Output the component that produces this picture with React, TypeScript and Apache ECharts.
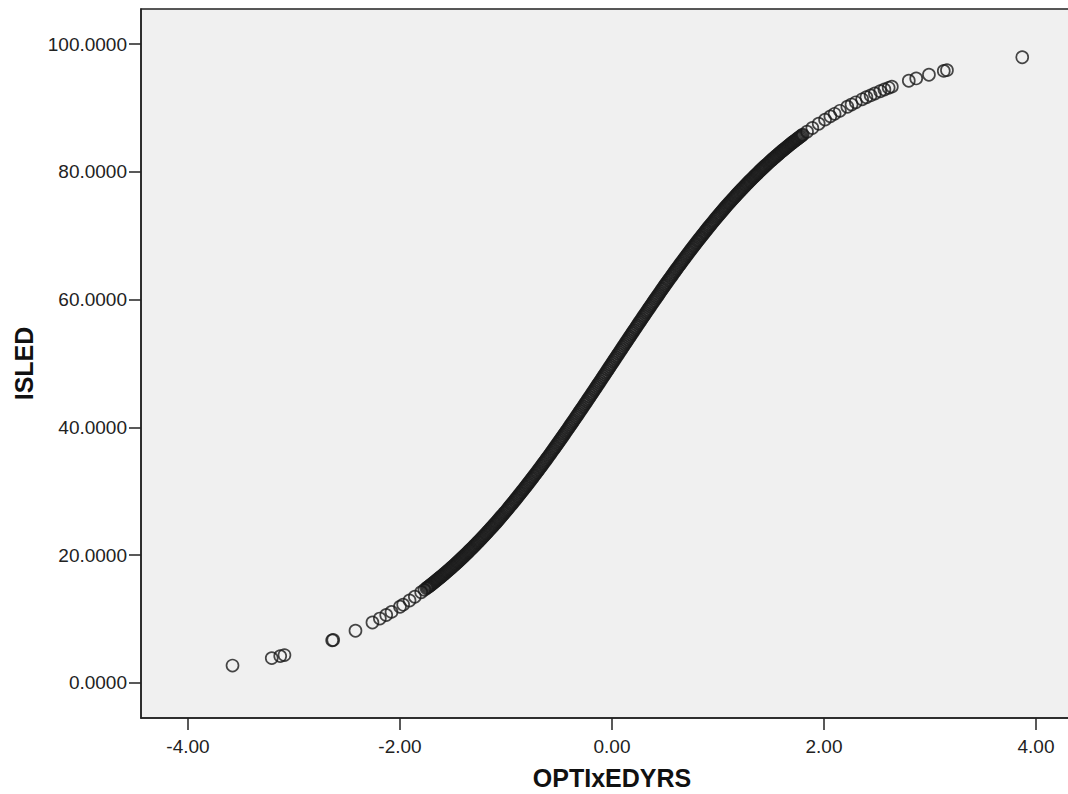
import React, { useEffect, useRef } from "react";
import * as echarts from "echarts";

// OPTIxEDYRS (x) and ISLED (y) values (tails and main band)
const optiValues: number[] = [
  -3.58, -3.21, -3.13, -3.09, -2.64, -2.63, -2.42, -2.26, -2.19, -2.13, -2.08, -2.0, -1.97, -1.91, -1.86, -1.8,
  -1.74, -1.71, -1.68, -1.65, -1.62, -1.59, -1.56, -1.54, -1.51, -1.48, -1.46, -1.43, -1.41, -1.38, -1.36, -1.34,
  -1.31, -1.29, -1.27, -1.25, -1.23, -1.21, -1.19, -1.17, -1.15, -1.13, -1.11, -1.09, -1.07, -1.05, -1.03, -1.01,
  -0.99, -0.97, -0.95, -0.93, -0.91, -0.89, -0.86, -0.84, -0.82, -0.8, -0.78, -0.76, -0.73, -0.71, -0.69, -0.67,
  -0.65, -0.62, -0.6, -0.58, -0.56, -0.54, -0.51, -0.49, -0.47, -0.45, -0.43, -0.4, -0.38, -0.36, -0.34, -0.31,
  -0.29, -0.27, -0.25, -0.22, -0.2, -0.18, -0.16, -0.14, -0.13, -0.11, -0.09, -0.07, -0.05, -0.04, -0.02,
  0.01, 0.03, 0.05, 0.06, 0.08, 0.1, 0.12, 0.14, 0.15, 0.17, 0.19, 0.21, 0.23, 0.24, 0.26, 0.28, 0.3, 0.32,
  0.33, 0.35, 0.37, 0.39, 0.41, 0.42, 0.44, 0.46, 0.48, 0.5, 0.52, 0.53, 0.55, 0.57, 0.59, 0.61, 0.63, 0.64,
  0.66, 0.68, 0.7, 0.72, 0.74, 0.75, 0.77, 0.79, 0.81, 0.83, 0.85, 0.87, 0.88, 0.9, 0.92, 0.94, 0.96, 0.98,
  1.0, 1.02, 1.04, 1.06, 1.08, 1.1, 1.12, 1.14, 1.16, 1.18, 1.2, 1.22, 1.24, 1.26, 1.28, 1.3, 1.33, 1.35,
  1.37, 1.4, 1.42, 1.45, 1.47, 1.5, 1.52, 1.55, 1.58, 1.6, 1.63, 1.66, 1.69, 1.72, 1.75, 1.78, 1.8, 1.84,
  1.89, 1.95, 2.01, 2.06, 2.1, 2.15, 2.22, 2.26, 2.3, 2.36, 2.4, 2.44, 2.48, 2.53, 2.57, 2.61, 2.64, 2.8,
  2.87, 2.99, 3.13, 3.16, 3.87,
];

const isledValues: number[] = [
  2.71, 3.88, 4.19, 4.35, 6.66, 6.72, 8.16, 9.45, 10.07, 10.62, 11.11, 11.92, 12.24, 12.9, 13.48, 14.19,
  14.94, 15.32, 15.71, 16.12, 16.53, 16.94, 17.38, 17.66, 18.1, 18.55, 18.86, 19.32, 19.63, 20.11, 20.43, 20.76,
  21.26, 21.59, 21.94, 22.28, 22.63, 22.98, 23.33, 23.69, 24.06, 24.42, 24.79, 25.16, 25.54, 25.93, 26.31, 26.7,
  27.09, 27.5, 27.9, 28.3, 28.71, 29.12, 29.75, 30.17, 30.59, 31.01, 31.44, 31.88, 32.53, 32.96, 33.4, 33.85,
  34.3, 34.98, 35.43, 35.89, 36.36, 36.82, 37.52, 37.99, 38.46, 38.94, 39.42, 40.13, 40.62, 41.1, 41.59, 42.32,
  42.8, 43.29, 43.78, 44.53, 45.02, 45.51, 46.01, 46.51, 46.75, 47.25, 47.75, 48.25, 48.75, 49.0, 49.5,
  50.25, 50.75, 51.25, 51.5, 52.0, 52.5, 53.0, 53.49, 53.74, 54.24, 54.74, 55.23, 55.72, 55.97, 56.46, 56.95, 57.44, 57.93,
  58.17, 58.66, 59.14, 59.63, 60.11, 60.35, 60.82, 61.3, 61.77, 62.25, 62.71, 62.95, 63.41, 63.87, 64.34, 64.8, 65.25, 65.47,
  65.92, 66.37, 66.82, 67.25, 67.69, 67.91, 68.34, 68.77, 69.2, 69.62, 70.04, 70.46, 70.67, 71.09, 71.49, 71.9, 72.3, 72.71,
  73.11, 73.49, 73.88, 74.26, 74.65, 75.03, 75.39, 75.76, 76.12, 76.49, 76.85, 77.2, 77.54, 77.89, 78.23, 78.58, 79.07, 79.4,
  79.73, 80.22, 80.53, 80.99, 81.3, 81.76, 82.05, 82.48, 82.91, 83.2, 83.61, 84.02, 84.42, 84.81, 85.19, 85.56, 85.81, 86.29,
  86.87, 87.54, 88.18, 88.69, 89.09, 89.56, 90.2, 90.54, 90.89, 91.36, 91.68, 91.97, 92.27, 92.62, 92.89, 93.16, 93.34, 94.27,
  94.63, 95.21, 95.81, 95.92, 97.95,
];

// further cases packed inside the dense middle band
const optiBand: number[] = [
  -1.77, -1.75, -1.73, -1.72, -1.7, -1.69, -1.67, -1.66, -1.64, -1.63, -1.61, -1.6, -1.58, -1.57, -1.55, -1.53,
  -1.52, -1.5, -1.49, -1.47, -1.45, -1.44, -1.42, -1.4, -1.39, -1.37, -1.35, -1.33, -1.32, -1.3, -1.28, -1.26,
  -1.24, -1.22, -1.2, -1.18, -1.16, -1.14, -1.12, -1.1, -1.08, -1.06, -1.04, -1.02, -1.0, -0.98, -0.96, -0.94,
  -0.92, -0.9, -0.88, -0.87, -0.85, -0.83, -0.81, -0.79, -0.77, -0.75, -0.74, -0.72, -0.7, -0.68, -0.66, -0.64,
  -0.63, -0.61, -0.59, -0.57, -0.55, -0.53, -0.52, -0.5, -0.48, -0.46, -0.44, -0.42, -0.41, -0.39, -0.37, -0.35,
  -0.33, -0.32, -0.3, -0.28, -0.26, -0.24, -0.23, -0.21, -0.19, -0.17, -0.15, -0.12, -0.1, -0.08, -0.06, -0.03,
  -0.01, 0.0, 0.02, 0.04, 0.07, 0.09, 0.11, 0.13, 0.16, 0.18, 0.2, 0.22, 0.25, 0.27, 0.29, 0.31, 0.34, 0.36,
  0.38, 0.4, 0.43, 0.45, 0.47, 0.49, 0.51, 0.54, 0.56, 0.58, 0.6, 0.62, 0.65, 0.67, 0.69, 0.71, 0.73, 0.76,
  0.78, 0.8, 0.82, 0.84, 0.86, 0.89, 0.91, 0.93, 0.95, 0.97, 0.99, 1.01, 1.03, 1.05, 1.07, 1.09, 1.11, 1.13,
  1.15, 1.17, 1.19, 1.21, 1.23, 1.25, 1.27, 1.29, 1.31, 1.32, 1.34, 1.36, 1.38, 1.39, 1.41, 1.43, 1.44, 1.46,
  1.48, 1.49, 1.51, 1.53, 1.54, 1.56, 1.57, 1.59, 1.61, 1.62, 1.64, 1.65, 1.67, 1.68, 1.7, 1.71, 1.73, 1.74,
  1.76, 1.77, 1.79,
];

const isledBand: number[] = [
  14.56, 14.81, 15.06, 15.19, 15.44, 15.58, 15.85, 15.98, 16.26, 16.39, 16.66, 16.8, 17.09, 17.23, 17.52, 17.81,
  17.95, 18.24, 18.39, 18.7, 19.01, 19.16, 19.47, 19.78, 19.94, 20.27, 20.6, 20.93, 21.09, 21.42, 21.77, 22.11,
  22.46, 22.8, 23.15, 23.51, 23.88, 24.24, 24.61, 24.97, 25.35, 25.74, 26.12, 26.51, 26.89, 27.29, 27.7, 28.1,
  28.51, 28.91, 29.33, 29.54, 29.96, 30.38, 30.8, 31.23, 31.66, 32.09, 32.31, 32.75, 33.18, 33.63, 34.08, 34.53,
  34.75, 35.2, 35.66, 36.13, 36.59, 37.05, 37.29, 37.75, 38.23, 38.7, 39.18, 39.65, 39.89, 40.37, 40.86, 41.34,
  41.83, 42.07, 42.56, 43.05, 43.54, 44.03, 44.28, 44.77, 45.26, 45.76, 46.26, 47.0, 47.5, 48.0, 48.5, 49.25,
  49.75, 50.0, 50.5, 51.0, 51.75, 52.25, 52.75, 53.25, 53.99, 54.49, 54.98, 55.47, 56.22, 56.71, 57.2, 57.68, 58.41, 58.9,
  59.38, 59.87, 60.58, 61.06, 61.54, 62.01, 62.48, 63.18, 63.64, 64.11, 64.57, 65.02, 65.7, 66.15, 66.6, 67.04, 67.47, 68.12,
  68.56, 68.99, 69.41, 69.83, 70.25, 70.88, 71.29, 71.7, 72.1, 72.5, 72.91, 73.3, 73.69, 74.07, 74.46, 74.84, 75.21, 75.58,
  75.94, 76.31, 76.67, 77.02, 77.37, 77.72, 78.06, 78.41, 78.74, 78.91, 79.24, 79.57, 79.89, 80.06, 80.37, 80.68, 80.84, 81.14,
  81.45, 81.61, 81.9, 82.19, 82.34, 82.62, 82.77, 83.06, 83.34, 83.47, 83.74, 83.88, 84.15, 84.29, 84.56, 84.68, 84.94, 85.06,
  85.31, 85.44, 85.69,
];

const xTickValues: number[] = [-4, -2, 0, 2, 4];
const yTickValues: number[] = [0, 20, 40, 60, 80, 100];

const FONT = '"Liberation Sans", Arial, Helvetica, sans-serif';
const INK = "#222222";

export default function App() {
  const ref = useRef<HTMLDivElement | null>(null);

  useEffect(() => {
    if (!ref.current) return;
    const chart = echarts.init(ref.current, undefined, { renderer: "svg" });
    const points = optiValues
      .map((x, i) => [x, isledValues[i]])
      .concat(optiBand.map((x, i) => [x, isledBand[i]]));

    chart.setOption({
      animation: false,
      backgroundColor: "#ffffff",
      grid: {
        left: 141,
        top: 9,
        width: 942,
        height: 709,
        show: true,
        backgroundColor: "#f0f0f0",
        borderColor: INK,
        borderWidth: 1.5,
        containLabel: false,
        outerBoundsMode: "none",
      },
      xAxis: {
        type: "value",
        min: -4.4434,
        max: 4.4434,
        name: "OPTIxEDYRS",
        nameLocation: "middle",
        nameGap: 47,
        nameTextStyle: { fontFamily: FONT, fontSize: 25, fontWeight: "bold", color: "#111" },
        axisLine: { show: true, onZero: false, lineStyle: { color: INK, width: 1.5 } },
        axisTick: { show: true, length: 12, customValues: xTickValues, lineStyle: { color: INK, width: 1.5 } },
        axisLabel: {
          show: true,
          customValues: xTickValues,
          margin: 19,
          fontFamily: FONT,
          fontSize: 19,
          color: INK,
          formatter: (v: number) => v.toFixed(2),
        },
        splitLine: { show: false },
      },
      yAxis: {
        type: "value",
        min: -5.5,
        max: 105.5,
        name: "ISLED",
        nameLocation: "middle",
        nameGap: 102,
        nameTextStyle: { fontFamily: FONT, fontSize: 25, fontWeight: "bold", color: "#111" },
        axisLine: { show: true, onZero: false, lineStyle: { color: INK, width: 1.5 } },
        axisTick: { show: true, length: 12, customValues: yTickValues, lineStyle: { color: INK, width: 1.5 } },
        axisLabel: {
          show: true,
          customValues: yTickValues,
          margin: 14,
          fontFamily: FONT,
          fontSize: 19,
          color: INK,
          formatter: (v: number) => v.toFixed(4),
        },
        splitLine: { show: false },
      },
      series: [
        {
          type: "scatter",
          data: points,
          symbol: "circle",
          symbolSize: 12,
          large: false,
          itemStyle: { color: "rgba(0,0,0,0)", borderColor: "#1a1a1a", borderWidth: 1.7 },
          emphasis: { disabled: true },
        },
      ],
    });

    return () => chart.dispose();
  }, []);

  return (
    <div style={{ position: "fixed", left: 0, top: 0, width: 1068, height: 794, overflow: "hidden", background: "#ffffff" }}>
      <div ref={ref} style={{ width: 1100, height: 794 }} />
    </div>
  );
}
